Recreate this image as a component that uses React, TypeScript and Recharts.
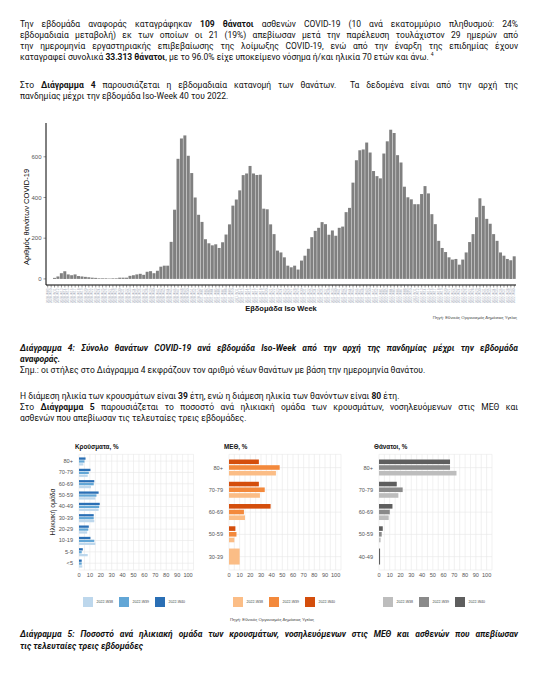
import React from 'react'
import { Bar, BarChart, CartesianGrid, XAxis, YAxis } from 'recharts'

// Διάγραμμα 4: θάνατοι ανά εβδομάδα Iso-Week, 2020-W09 έως 2022-W40
const isoYears = [2020, 2021, 2022]
const firstWeek = [9, 1, 1]
const lastWeek = [53, 52, 40]

const weekDeaths = [
  0, 0,
  5, 12, 28, 38, 22, 18, 22, 14, 12, 10,
  8, 6, 5, 3, 3, 3, 2, 3, 3, 6,
  6, 6, 15, 18, 22, 25, 20, 35, 38, 28,
  40, 60, 65, 65, 182, 340, 590, 690, 705, 605,
  520, 400, 315, 280, 195, 175, 165, 170, 152, 180,
  218, 268, 360, 390, 435, 510, 518, 555, 518, 510,
  512, 345, 342, 268, 220, 139, 130, 106, 65, 57,
  65, 46, 90, 114, 148, 205, 236, 251, 279, 269,
  217, 238, 212, 251, 257, 328, 349, 473, 583, 632,
  636, 670, 621, 530, 505, 494, 616, 676, 733, 717,
  608, 572, 453, 401, 391, 367, 367, 417, 456, 420,
  318, 269, 187, 152, 132, 106, 95, 98, 70, 95,
  130, 181, 220, 303, 396, 359, 295, 271, 220, 187,
  130, 114, 98, 91, 111,
]
const deathTicks = [0, 200, 400, 600]

// Διάγραμμα 5
const weekKeys = ['2022-W38', '2022-W39', '2022-W40']

const caseAges = ['80+', '70-79', '60-69', '50-59', '40-49', '30-39', '20-29', '10-19', '5-9', '<5']
const casesW38 = [4, 8, 11, 15, 18, 14, 7.5, 15, 8, 3]
const casesW39 = [5, 9, 13.5, 16, 18.5, 13.5, 8.5, 14, 2.5, 2.5]
const casesW40 = [6, 10.5, 14, 18, 19, 13.5, 9, 10.5, 3.5, 2.5]

const icuAges = ['80+', '70-79', '60-69', '50-59', '30-39']
const icuW38 = [44, 29, 15, 5, 10]
const icuW39 = [47.5, 33.5, 14, 7, null]
const icuW40 = [28, 28, 39, 6, null]

const deadAges = ['80+', '70-79', '60-69', '50-59', '40-49']
const deadW38 = [72, 18, 9, 1.5, null]
const deadW39 = [66, 22, 10, 2.5, null]
const deadW40 = [66, 16.5, 12.5, 3.5, 1]

const pctTicks = [0, 5, 10, 15, 20, 25, 30, 35, 40, 45, 50, 55, 60, 65, 70, 75, 80, 85, 90, 95, 100]

const blues = ['#bdd7ec', '#62a6d6', '#2a6fb5']
const oranges = ['#fbbd86', '#f3893c', '#d44e0c']
const greys = ['#bdbdbd', '#8a8a8a', '#5e5e5e']

const weekLabels: string[] = []
isoYears.forEach((yr, k) => {
  for (let w = firstWeek[k]; w <= lastWeek[k]; w++) {
    weekLabels.push(`${yr}-W${String(w).padStart(2, '0')}`)
  }
})
const weeklyData = weekLabels.map((week, i) => ({ week, deaths: weekDeaths[i] }))

const rowsOf = (ages: string[], a: (number | null)[], b: (number | null)[], c: (number | null)[]) =>
  ages.map((age, i) => ({ age, w38: a[i], w39: b[i], w40: c[i] }))

const chartFont = '"Liberation Sans", Arial, sans-serif'
const textFont = 'Roboto, "Noto Sans", sans-serif'

function WeekTick(props: any) {
  const { x, y, payload } = props
  return (
    <text
      transform={`translate(${x + 1.1},${y + 1}) rotate(-90)`}
      textAnchor="end"
      fontSize={3.2}
      fill="#aab0bd"
      fontFamily={chartFont}
    >
      {payload.value}
    </text>
  )
}

// a group with only one week present fills the whole dodge slot, as in ggplot
const slotBar = (pos: number, size: number, gap: number) => (props: any) => {
  const { x, y, width, height, fill, payload } = props
  if (!(width > 0)) return <g />
  const present = ['w38', 'w39', 'w40'].filter((k) => payload[k] != null).length
  const yy = present === 1 ? y - pos * (size + gap) : y
  const hh = present === 1 ? 3 * size + 2 * gap : height
  return <rect x={x} y={yy} width={width} height={hh} fill={fill} />
}

function AgePanel({ left, right, data, colors, size, gap, pad }: any) {
  return (
    <div style={{ position: 'absolute', left, top: 440 }}>
      <BarChart
        width={160}
        height={145}
        data={data}
        layout="vertical"
        margin={{ top: 14.3, right, bottom: 3, left: 0 }}
        barGap={gap}
        barSize={size}
      >
        <CartesianGrid stroke="#e8e8e8" strokeWidth={0.6} />
        <XAxis
          type="number"
          domain={[0, 105]}
          ticks={pctTicks}
          interval={0}
          tickFormatter={(v) => (v % 10 === 0 ? `${v}` : '')}
          axisLine={false}
          tickLine={false}
          tickSize={3}
          tickMargin={0}
          height={12}
          tick={{ fontSize: 5.6, fill: '#555', fontFamily: chartFont }}
          allowDataOverflow
        />
        <YAxis
          type="category"
          dataKey="age"
          width={39}
          interval={0}
          axisLine={false}
          tickLine={false}
          tickSize={4}
          tickMargin={2}
          padding={{ top: pad, bottom: pad }}
          tick={{ fontSize: 5.6, fill: '#555', fontFamily: chartFont }}
        />
        <Bar dataKey="w40" fill={colors[2]} shape={slotBar(0, size, gap)} isAnimationActive={false} />
        <Bar dataKey="w39" fill={colors[1]} shape={slotBar(1, size, gap)} isAnimationActive={false} />
        <Bar dataKey="w38" fill={colors[0]} shape={slotBar(2, size, gap)} isAnimationActive={false} />
      </BarChart>
    </div>
  )
}

function WeekLegend({ left, colors }: any) {
  return (
    <>
      {weekKeys.map((k, i) => (
        <div key={k} style={{ position: 'absolute', left: left + i * 36, top: 597, display: 'flex', alignItems: 'center' }}>
          <div style={{ width: 9.5, height: 10, background: colors[i] }} />
          <span style={{ fontSize: 3.6, marginLeft: 4, color: '#444', fontFamily: chartFont }}>{k}</span>
        </div>
      ))}
    </>
  )
}

function Line({ top, justify, children, style }: any) {
  return (
    <div
      style={{
        position: 'absolute',
        left: 20,
        width: 498,
        top: top - 6,
        height: 12,
        lineHeight: '12px',
        whiteSpace: 'nowrap',
        textAlign: justify ? 'justify' : 'left',
        textAlignLast: justify ? 'justify' : 'left',
        ...style,
      }}
    >
      {children}
    </div>
  )
}

const cap = { fontWeight: 700, fontStyle: 'italic' }

export default function App() {
  return (
    <div
      style={{
        position: 'absolute',
        left: 0,
        top: 0,
        width: 538,
        height: 690,
        background: '#fff',
        fontFamily: textFont,
        fontSize: 8.5,
        color: '#111',
      }}
    >
      <Line top={24} justify>
        Την εβδομάδα αναφοράς καταγράφηκαν <b>109 θάνατοι</b> ασθενών COVID-19 (10 ανά εκατομμύριο πληθυσμού: 24%
      </Line>
      <Line top={35} justify>
        εβδομαδιαία μεταβολή) εκ των οποίων οι 21 (19%) απεβίωσαν μετά την παρέλευση τουλάχιστον 29 ημερών από
      </Line>
      <Line top={46} justify>
        την ημερομηνία εργαστηριακής επιβεβαίωσης της λοίμωξης COVID-19, ενώ από την έναρξη της επιδημίας έχουν
      </Line>
      <Line top={57}>
        καταγραφεί συνολικά <b>33.313 θάνατοι</b>, με το 96.0% είχε υποκείμενο νόσημα ή/και ηλικία 70 ετών και άνω.{' '}
        <sup style={{ fontSize: 5, lineHeight: 0 }}>4</sup>
      </Line>
      <Line top={85} justify>
        Στο <b>Διάγραμμα 4</b> παρουσιάζεται η εβδομαδιαία κατανομή των θανάτων.&nbsp; Τα δεδομένα είναι από την αρχή της
      </Line>
      <Line top={96}>πανδημίας μέχρι την εβδομάδα Iso-Week 40 του 2022.</Line>

      <div style={{ position: 'absolute', left: 0, top: 110 }}>
        <BarChart
          width={538}
          height={215}
          data={weeklyData}
          margin={{ top: 13, right: 22, bottom: 0, left: 0 }}
          barCategoryGap="4%"
        >
          <XAxis
            dataKey="week"
            interval={0}
            height={40}
            tick={<WeekTick />}
            tickSize={2.5}
            tickMargin={0}
            tickLine={{ stroke: '#333', strokeWidth: 0.5 }}
            axisLine={{ stroke: '#000', strokeWidth: 1 }}
          />
          <YAxis
            width={46}
            domain={[-30, 766]}
            ticks={deathTicks}
            allowDataOverflow
            tickSize={2.5}
            tickMargin={2}
            tickLine={{ stroke: '#333', strokeWidth: 0.5 }}
            axisLine={{ stroke: '#000', strokeWidth: 1 }}
            tick={{ fontSize: 6, fill: '#555', fontFamily: chartFont }}
          />
          <Bar dataKey="deaths" fill="#808080" isAnimationActive={false} />
        </BarChart>
      </div>
      <div
        style={{
          position: 'absolute',
          left: 26,
          top: 217,
          transform: 'translate(-50%, -50%) rotate(-90deg)',
          fontFamily: chartFont,
          fontSize: 7.6,
          whiteSpace: 'nowrap',
          color: '#000',
        }}
      >
        Αριθμός θανάτων COVID-19
      </div>
      <div
        style={{
          position: 'absolute',
          left: 281,
          top: 308,
          transform: 'translate(-50%, -50%)',
          fontFamily: chartFont,
          fontSize: 7.5,
          fontWeight: 700,
          whiteSpace: 'nowrap',
          color: '#111',
        }}
      >
        Εβδομάδα Iso Week
      </div>
      <div
        style={{
          position: 'absolute',
          right: 538 - 517,
          top: 315,
          fontFamily: chartFont,
          fontSize: 4.3,
          whiteSpace: 'nowrap',
          color: '#444',
        }}
      >
        Πηγή: Εθνικός Οργανισμός Δημόσιας Υγείας
      </div>

      <Line top={348} style={cap} justify>
        Διάγραμμα 4: Σύνολο θανάτων COVID-19 ανά εβδομάδα Iso-Week από την αρχή της πανδημίας μέχρι την εβδομάδα
      </Line>
      <Line top={359} style={cap}>
        αναφοράς.
      </Line>
      <Line top={370}>
        Σημ.: οι στήλες στο Διάγραμμα 4 εκφράζουν τον αριθμό νέων θανάτων με βάση την ημερομηνία θανάτου.
      </Line>
      <Line top={396}>
        Η διάμεση ηλικία των κρουσμάτων είναι <b>39</b> έτη, ενώ η διάμεση ηλικία των θανόντων είναι <b>80</b> έτη.
      </Line>
      <Line top={407} justify>
        Στο <b>Διάγραμμα 5</b> παρουσιάζεται το ποσοστό ανά ηλικιακή ομάδα των κρουσμάτων, νοσηλευόμενων στις ΜΕΘ και
      </Line>
      <Line top={418}>ασθενών που απεβίωσαν τις τελευταίες τρεις εβδομάδες.</Line>

      {[
        { x: 75, t: 'Κρούσματα, %' },
        { x: 224, t: 'ΜΕΘ, %' },
        { x: 374, t: 'Θάνατοι, %' },
      ].map((h) => (
        <div
          key={h.t}
          style={{
            position: 'absolute',
            left: h.x,
            top: 443,
            fontFamily: chartFont,
            fontSize: 6.3,
            fontWeight: 700,
            whiteSpace: 'nowrap',
            color: '#111',
          }}
        >
          {h.t}
        </div>
      ))}
      <div
        style={{
          position: 'absolute',
          left: 52,
          top: 512,
          transform: 'translate(-50%, -50%) rotate(-90deg)',
          fontFamily: chartFont,
          fontSize: 6.8,
          whiteSpace: 'nowrap',
          color: '#222',
        }}
      >
        Ηλικιακή ομάδα
      </div>

      <AgePanel left={40} right={6.5} data={rowsOf(caseAges, casesW38, casesW39, casesW40)} colors={blues} size={2.3} gap={0.6} pad={1.13} />
      <AgePanel left={190} right={9} data={rowsOf(icuAges, icuW38, icuW39, icuW40)} colors={oranges} size={4.6} gap={1.1} pad={2.2} />
      <AgePanel left={340} right={8} data={rowsOf(deadAges, deadW38, deadW39, deadW40)} colors={greys} size={4.6} gap={1.1} pad={2.2} />

      <WeekLegend left={83} colors={blues} />
      <WeekLegend left={233} colors={oranges} />
      <WeekLegend left={383} colors={greys} />

      <div
        style={{
          position: 'absolute',
          left: 272,
          top: 619,
          transform: 'translate(-50%, -50%)',
          fontFamily: chartFont,
          fontSize: 4.3,
          whiteSpace: 'nowrap',
          color: '#444',
        }}
      >
        Πηγή: Εθνικός Οργανισμός Δημόσιας Υγείας
      </div>

      <Line top={634} style={cap} justify>
        Διάγραμμα 5: Ποσοστό ανά ηλικιακή ομάδα των κρουσμάτων, νοσηλευόμενων στις ΜΕΘ και ασθενών που απεβίωσαν
      </Line>
      <Line top={646} style={cap}>
        τις τελευταίες τρεις εβδομάδες
      </Line>
    </div>
  )
}
